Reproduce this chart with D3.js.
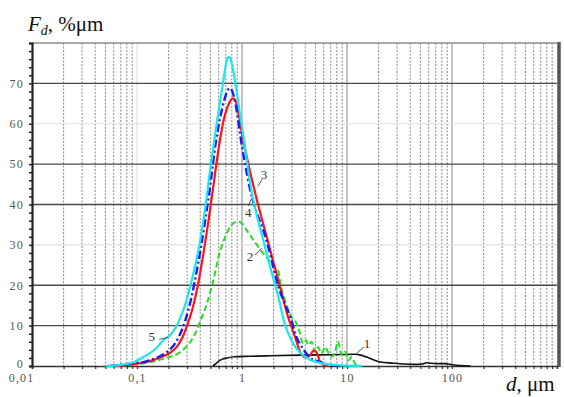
<!DOCTYPE html>
<html>
<head>
<meta charset="utf-8">
<script src="https://cdn.jsdelivr.net/npm/d3@7"></script>
<style>
  body { margin: 0; background: #fff; }
  svg { display: block; font-family: "Liberation Serif", "Times New Roman", serif; }
</style>
</head>
<body>
<svg id="chart" width="564" height="397"></svg>
<script>
// particle size, um  /  differential distribution, %um
var d1 = [0.53, 0.56, 0.6, 0.65, 0.72, 0.85, 1.2, 1.7, 3.5, 7, 12, 13.5, 15.4, 18, 20.6, 27.6, 35, 46, 52, 57, 62, 70, 85, 101, 120, 150];
var f1 = [0, 0.5, 1.2, 1.7, 2.0, 2.3, 2.4, 2.5, 2.7, 2.8, 2.9, 2.7, 2.2, 1.5, 1.0, 0.7, 0.5, 0.4, 0.5, 0.8, 0.7, 0.6, 0.6, 0.3, 0.1, 0];

var d2 = [0.06, 0.09, 0.13, 0.19, 0.25, 0.3, 0.35, 0.4, 0.47, 0.52, 0.62, 0.72, 0.82, 0.92, 1.0, 1.15, 1.3, 1.48, 1.7, 1.92, 2.05, 2.2, 2.35, 2.55, 2.76, 3.0, 3.2, 3.57, 3.8, 4.07, 4.28, 4.6, 4.95, 5.3, 5.7, 6.2, 6.7, 7.1, 7.7, 8.2, 8.9, 9.6, 10.3, 11, 11.9, 12.7];
var f2 = [0, 0.3, 0.9, 2.0, 3.2, 5.0, 7.5, 11, 16, 20, 28.5, 33, 35.3, 35.8, 35.3, 33, 31, 29, 27, 25.5, 24.5, 23.8, 19.7, 16.5, 13.9, 11.8, 11.2, 8.1, 5.6, 6.4, 5.2, 6.0, 3.5, 4.7, 3.1, 4.7, 3.1, 2.3, 3.5, 6.0, 2.7, 3.5, 1.4, 2.2, 0.6, 0];

var d3s = [0.06, 0.08, 0.1, 0.14, 0.18, 0.21, 0.24, 0.27, 0.3, 0.34, 0.38, 0.43, 0.48, 0.53, 0.6, 0.67, 0.72, 0.77, 0.82, 0.87, 0.92, 1.0, 1.15, 1.36, 1.6, 1.82, 2.0, 2.3, 2.74, 3.2, 3.57, 4.0, 4.4, 4.8, 5.1, 5.5, 6.0, 6.5];
var f3 = [0, 0.3, 0.6, 1.4, 2.5, 3.4, 4.8, 7, 10, 14.5, 20, 28, 36, 44, 54, 61, 63.8, 65.6, 66.3, 65.6, 63.2, 57.5, 50, 42, 35, 29.6, 25.5, 19.7, 12.2, 7.2, 3.5, 2.2, 2.5, 3.8, 3.5, 1.2, 0.3, 0];

var d4 = [0.055, 0.07, 0.09, 0.12, 0.15, 0.18, 0.21, 0.25, 0.29, 0.33, 0.38, 0.44, 0.5, 0.56, 0.62, 0.68, 0.72, 0.76, 0.8, 0.85, 0.9, 0.97, 1.07, 1.2, 1.38, 1.6, 1.8, 2.2, 2.5, 2.9, 3.3, 3.8, 4.4, 5.5, 7, 9];
var f4 = [0, 0.3, 0.6, 1.1, 1.9, 3.0, 4.3, 7.2, 11.5, 17, 25, 35, 45, 55, 61.5, 66, 67.9, 68.8, 68.3, 66, 62.5, 56.5, 50, 43.5, 38, 33.5, 29, 20, 16, 12, 7.2, 4.3, 2.2, 1.0, 0.3, 0];

var d5 = [0.05, 0.07, 0.09, 0.12, 0.15, 0.18, 0.21, 0.25, 0.29, 0.33, 0.38, 0.44, 0.5, 0.57, 0.64, 0.68, 0.71, 0.74, 0.77, 0.8, 0.86, 0.95, 1.05, 1.2, 1.35, 1.6, 1.9, 2.2, 2.55, 3.0, 3.6, 4.5, 6.0, 9.0, 14];
var f5 = [0, 0.3, 0.8, 2.5, 4.2, 6.5, 7.8, 11, 15.5, 21, 28, 38, 49, 59.5, 68, 72.5, 75.3, 76.6, 76.3, 74.8, 70.5, 63, 55.5, 45, 38.5, 31, 23.5, 17.5, 10.5, 6, 3.2, 1.5, 0.6, 0.15, 0];

var xTickValues = [0.01, 0.1, 1, 10, 100];
var xTickLabels = ["0,01", "0,1", "1", "10", "100"];
var yTickValues = [0, 10, 20, 30, 40, 50, 60, 70];

// curve number labels and their leader lines, in data units
var curveLabels = ["1", "2", "3", "4", "5"];
var labelAt = [[15.5, 5.6], [1.19, 27.1], [1.62, 47.4], [1.15, 37.9], [0.138, 7.2]];
var leaderFrom = [[12.3, 3.1], [1.33, 27.5], [1.42, 44.5], [1.15, 39.6], [0.163, 6.6]];
var leaderTo = [[14.5, 4.7], [1.54, 29.2], [1.55, 46.2], [1.24, 41.6], [0.198, 7.1]];

var svg = d3.select("#chart");

var x = d3.scaleLog().domain([0.01, 1000]).range([32, 557]);
var y = d3.scaleLinear().domain([0, 80]).range([366, 43]);

// minor positions 2..9 in every decade
var minorX = [];
[0.01, 0.1, 1, 10, 100].forEach(function(dec) {
  for (var m = 2; m <= 9; m++) minorX.push(dec * m);
});

// vertical grid
svg.append("g").selectAll("line")
  .data(minorX)
  .enter().append("line")
  .attr("x1", function(d) { return x(d); })
  .attr("x2", function(d) { return x(d); })
  .attr("y1", y(80)).attr("y2", y(0))
  .attr("stroke", "#8a8a8a")
  .attr("stroke-width", 1)
  .attr("stroke-dasharray", "2,1.5");

svg.append("g").selectAll("line")
  .data([0.1, 1, 10, 100])
  .enter().append("line")
  .attr("x1", function(d) { return x(d); })
  .attr("x2", function(d) { return x(d); })
  .attr("y1", y(80)).attr("y2", y(0))
  .attr("stroke", function(d) { return d == 0.1 ? "#e2e2e2" : "#9a9a9a"; })
  .attr("stroke-width", 1.2);

// horizontal grid
svg.append("g").selectAll("line")
  .data(yTickValues.slice(1))
  .enter().append("line")
  .attr("x1", x(0.01)).attr("x2", x(1000))
  .attr("y1", function(d) { return y(d); })
  .attr("y2", function(d) { return y(d); })
  .attr("stroke", function(d) { return (d == 30 || d == 60) ? "#e0e0e0" : "#4a4a4a"; })
  .attr("stroke-width", function(d) { return (d == 30 || d == 60) ? 1.2 : 1.3; });

// frame
svg.append("line").attr("x1", x(0.01)).attr("x2", x(1000)).attr("y1", y(80)).attr("y2", y(80))
  .attr("stroke", "#8c8c8c").attr("stroke-width", 1.5);
svg.append("line").attr("x1", x(1000) + 2).attr("x2", x(1000) + 2).attr("y1", y(80) - 1).attr("y2", y(0) + 1)
  .attr("stroke", "#555").attr("stroke-width", 3.5);

// axes
var xAxis = d3.axisBottom(x)
  .tickValues(minorX.concat(xTickValues))
  .tickSize(3)
  .tickPadding(4)
  .tickFormat(function(d) { var i = xTickValues.indexOf(d); return i < 0 ? "" : xTickLabels[i]; });

var gx = svg.append("g").attr("transform", "translate(0," + y(0) + ")").call(xAxis);
gx.select(".domain").attr("stroke", "#333").attr("stroke-width", 1.6);
gx.selectAll(".tick line").attr("stroke", "#333").attr("stroke-width", 1.2);
gx.selectAll("text").attr("font-size", 12).attr("fill", "#555").attr("letter-spacing", 1.2)
  .attr("font-family", "Liberation Serif, serif");
gx.selectAll("text").filter(function(d) { return d == 0.01; }).attr("text-anchor", "end").attr("dx", 2);

var yMinor = d3.range(0, 81, 2);
var yAxis = d3.axisLeft(y)
  .tickValues(yMinor)
  .tickSize(3)
  .tickPadding(5)
  .tickFormat(function(d) { return yTickValues.indexOf(d) < 0 ? "" : d; });

var gy = svg.append("g").attr("transform", "translate(" + x(0.01) + ",0)").call(yAxis);
gy.select(".domain").attr("stroke", "#222").attr("stroke-width", 2.2);
gy.selectAll(".tick line").attr("stroke", "#222").attr("stroke-width", 1.5);
gy.selectAll("text").attr("font-size", 12).attr("fill", "#555").attr("letter-spacing", 1.2)
  .attr("font-family", "Liberation Serif, serif");
gy.selectAll("text").filter(function(d) { return d == 0; }).attr("dy", "0.1em");

// curves
var series = [
  { name: "1", xs: d1, ys: f1, color: "#111111", width: 1.6, dash: null },
  { name: "2", xs: d2, ys: f2, color: "#22dd22", width: 2, dash: "6,3" },
  { name: "3", xs: d3s, ys: f3, color: "#ff1414", width: 2.2, dash: null },
  { name: "4", xs: d4, ys: f4, color: "#1a1aff", width: 2.4, dash: "8,3,2,3" },
  { name: "5", xs: d5, ys: f5, color: "#19e6ee", width: 2.2, dash: null }
];

var line = d3.line()
  .x(function(d) { return x(d[0]); })
  .y(function(d) { return y(d[1]); })
  .curve(d3.curveMonotoneX);

svg.append("g").selectAll("path")
  .data(series)
  .enter().append("path")
  .attr("d", function(s) { return line(d3.zip(s.xs, s.ys)); })
  .attr("fill", "none")
  .attr("stroke", function(s) { return s.color; })
  .attr("stroke-width", function(s) { return s.width; })
  .attr("stroke-dasharray", function(s) { return s.dash; })
  .attr("stroke-linejoin", "round");

// curve labels with leader lines
svg.append("g").selectAll("line")
  .data(curveLabels)
  .enter().append("line")
  .attr("x1", function(d, i) { return x(leaderFrom[i][0]); })
  .attr("y1", function(d, i) { return y(leaderFrom[i][1]); })
  .attr("x2", function(d, i) { return x(leaderTo[i][0]); })
  .attr("y2", function(d, i) { return y(leaderTo[i][1]); })
  .attr("stroke", "#444")
  .attr("stroke-width", 0.9);

svg.append("g").selectAll("text")
  .data(curveLabels)
  .enter().append("text")
  .attr("x", function(d, i) { return x(labelAt[i][0]); })
  .attr("y", function(d, i) { return y(labelAt[i][1]); })
  .attr("text-anchor", "middle")
  .attr("dominant-baseline", "central")
  .attr("font-size", 13)
  .attr("fill", "#333")
  .text(function(d) { return d; });

// axis titles
var ty = svg.append("text").attr("x", 28).attr("y", 31).attr("font-size", 21).attr("fill", "#111")
  .attr("font-family", "Liberation Serif, Times New Roman, serif");
ty.append("tspan").attr("font-style", "italic").text("F");
ty.append("tspan").attr("font-style", "italic").attr("font-size", 14).attr("dy", 4).text("d");
ty.append("tspan").attr("dy", -4).text(", %μm");

var tx = svg.append("text").attr("x", 506).attr("y", 391).attr("font-size", 21).attr("fill", "#111")
  .attr("font-family", "Liberation Serif, Times New Roman, serif");
tx.append("tspan").attr("font-style", "italic").text("d");
tx.append("tspan").text(", μm");
</script>
</body>
</html>
